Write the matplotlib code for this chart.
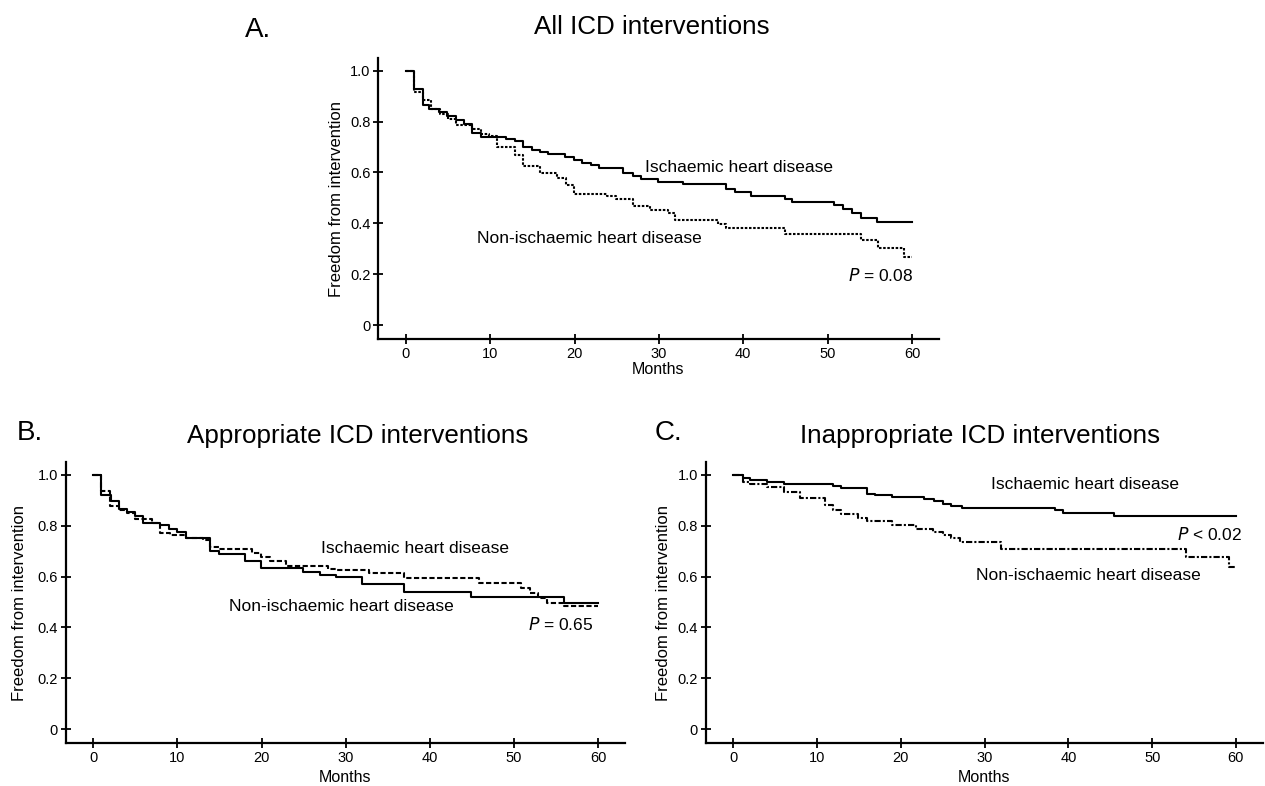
import matplotlib
matplotlib.use("Agg")
from matplotlib import pyplot as plt

plt.rcParams["font.family"] = ["Liberation Sans", "DejaVu Sans"]

# Panel A: all ICD interventions
a_isch_t = [0, 1.0, 2.0, 2.8, 3.9, 4.9, 5.9, 6.9, 7.9, 8.9, 11.9, 12.9, 13.9, 14.9, 15.9, 16.9,
            18.9, 19.9, 20.9, 21.9, 22.9, 25.8, 26.9, 27.9, 29.9, 32.8, 37.9, 39.0, 40.9, 44.9,
            45.8, 50.8, 51.8, 52.9, 53.9, 55.9, 60]
a_isch_s = [1.0, 0.927, 0.864, 0.848, 0.838, 0.822, 0.806, 0.79, 0.756, 0.738, 0.73, 0.722, 0.70,
            0.69, 0.68, 0.672, 0.662, 0.65, 0.637, 0.63, 0.617, 0.596, 0.586, 0.575, 0.564, 0.554,
            0.533, 0.522, 0.509, 0.496, 0.485, 0.472, 0.456, 0.441, 0.422, 0.406, 0.406]
a_non_t = [0, 1.0, 2.0, 3.0, 4.0, 5.0, 6.0, 7.9, 8.9, 9.9, 10.8, 12.9, 13.9, 15.9, 17.9, 19.0, 19.9,
           23.9, 24.9, 26.9, 28.9, 31.1, 31.9, 37.0, 37.9, 44.9, 54.0, 56.0, 59.0, 60]
a_non_s = [1.0, 0.917, 0.885, 0.85, 0.83, 0.81, 0.788, 0.769, 0.75, 0.744, 0.70, 0.669, 0.627, 0.596,
           0.577, 0.551, 0.517, 0.509, 0.496, 0.469, 0.454, 0.441, 0.414, 0.396, 0.38, 0.357, 0.335,
           0.304, 0.267, 0.267]

# Panel B: appropriate ICD interventions
b_solid_t = [0, 0.95, 2.05, 3.0, 3.96, 4.99, 5.9, 7.9, 8.95, 10.0, 11.0, 13.9, 14.96, 18.05, 19.95,
             24.9, 26.9, 28.9, 32.0, 36.9, 44.9, 55.9, 60]
b_solid_s = [1.0, 0.921, 0.896, 0.865, 0.853, 0.838, 0.812, 0.802, 0.786, 0.775, 0.75, 0.70, 0.687,
             0.661, 0.632, 0.618, 0.608, 0.6, 0.569, 0.539, 0.521, 0.495, 0.495]
b_dash_t = [0, 0.95, 2.0, 3.0, 4.0, 5.0, 7.0, 7.9, 9.1, 11.0, 13.0, 13.9, 14.9, 18.9, 19.95, 21.0,
            22.9, 27.9, 28.9, 32.8, 36.9, 45.9, 50.9, 51.9, 52.9, 53.9, 55.9, 60]
b_dash_s = [1.0, 0.937, 0.878, 0.86, 0.85, 0.826, 0.81, 0.77, 0.763, 0.75, 0.742, 0.715, 0.708, 0.691,
            0.675, 0.661, 0.641, 0.631, 0.625, 0.613, 0.595, 0.574, 0.555, 0.537, 0.516, 0.498,
            0.484, 0.484]

# Panel C: inappropriate ICD interventions
c_isch_t = [0, 1.1, 2.0, 4.0, 6.0, 11.9, 12.9, 15.9, 16.9, 18.9, 22.8, 23.9, 25.0, 26.0, 27.3, 38.4,
            39.4, 45.4, 60]
c_isch_s = [1.0, 0.989, 0.981, 0.97, 0.965, 0.957, 0.949, 0.926, 0.92, 0.912, 0.904, 0.896, 0.886,
            0.876, 0.868, 0.86, 0.849, 0.836, 0.836]
c_non_t = [0, 1.1, 2.0, 4.0, 6.0, 7.9, 10.9, 11.9, 12.9, 14.9, 15.9, 18.9, 21.8, 23.8, 25.0, 26.0,
           27.0, 31.9, 54.0, 59.2, 60]
c_non_s = [1.0, 0.973, 0.963, 0.952, 0.934, 0.907, 0.881, 0.863, 0.844, 0.83, 0.818, 0.804, 0.788,
           0.775, 0.765, 0.752, 0.736, 0.709, 0.678, 0.638, 0.638]

x_ticks = [0, 10, 20, 30, 40, 50, 60]
y_ticks = [0, 0.2, 0.4, 0.6, 0.8, 1.0]
y_tick_labels = ["0", "0.2", "0.4", "0.6", "0.8", "1.0"]


def style_axes(ax, ylab_x, xlab_y):
    ax.set_xlim(-3.3, 63.2)
    ax.set_ylim(-0.055, 1.05)
    ax.spines["top"].set_visible(False)
    ax.spines["right"].set_visible(False)
    for s in ("left", "bottom"):
        ax.spines[s].set_linewidth(1.6)
    ax.set_xticks(x_ticks)
    ax.set_yticks(y_ticks)
    ax.set_yticklabels(y_tick_labels)
    ax.tick_params(direction="inout", length=7, width=1.3, labelsize=10.5, pad=2)
    ax.set_xlabel("Months", fontsize=11.5)
    ax.set_ylabel("Freedom from intervention", fontsize=12)
    ax.xaxis.set_label_coords(0.5, xlab_y)
    ax.yaxis.set_label_coords(ylab_x, 0.5)


fig = plt.figure(figsize=(12.65, 7.86), dpi=100)

ax_a = fig.add_axes([0.2988, 0.5687, 0.4435, 0.3575])
ax_b = fig.add_axes([0.0518, 0.0543, 0.4422, 0.3579])
ax_c = fig.add_axes([0.5579, 0.0543, 0.4403, 0.3579])

lw = 1.5
ax_a.step(a_isch_t, a_isch_s, where="post", color="black", lw=lw)
ax_a.step(a_non_t, a_non_s, where="post", color="black", lw=lw, linestyle=(0, (1.2, 0.8)))
ax_b.step(b_solid_t, b_solid_s, where="post", color="black", lw=lw)
ax_b.step(b_dash_t, b_dash_s, where="post", color="black", lw=lw, linestyle=(0, (2.5, 1.2)))
ax_c.step(c_isch_t, c_isch_s, where="post", color="black", lw=lw)
ax_c.step(c_non_t, c_non_s, where="post", color="black", lw=lw, linestyle=(0, (3, 1, 1, 1)))

style_axes(ax_a, -0.061, -0.082)
style_axes(ax_b, -0.069, -0.096)
style_axes(ax_c, -0.062, -0.096)

ann = 12.5
ax_a.text(28.3, 0.618, "Ischaemic heart disease", fontsize=ann, va="center")
ax_a.text(8.4, 0.341, "Non-ischaemic heart disease", fontsize=ann, va="center")
ax_a.text(60.1, 0.196, r"$\it{P}$ = 0.08", fontsize=ann, va="center", ha="right")

ax_b.text(27.1, 0.711, "Ischaemic heart disease", fontsize=ann, va="center")
ax_b.text(16.1, 0.483, "Non-ischaemic heart disease", fontsize=ann, va="center")
ax_b.text(59.4, 0.412, r"$\it{P}$ = 0.65", fontsize=ann, va="center", ha="right")

ax_c.text(30.8, 0.962, "Ischaemic heart disease", fontsize=ann, va="center")
ax_c.text(60.8, 0.767, r"$\it{P}$ < 0.02", fontsize=ann, va="center", ha="right")
ax_c.text(29.0, 0.605, "Non-ischaemic heart disease", fontsize=ann, va="center")

title_fs = 18.7
fig.text(652 / 1265, 1 - 27 / 786, "All ICD interventions", fontsize=title_fs, ha="center", va="center")
fig.text(258 / 1265, 1 - 30 / 786, "A.", fontsize=20, ha="center", va="center")
fig.text(358 / 1265, 1 - 436 / 786, "Appropriate ICD interventions", fontsize=title_fs, ha="center", va="center")
fig.text(30 / 1265, 1 - 433 / 786, "B.", fontsize=20, ha="center", va="center")
fig.text(980 / 1265, 1 - 436 / 786, "Inappropriate ICD interventions", fontsize=title_fs, ha="center", va="center")
fig.text(668 / 1265, 1 - 433 / 786, "C.", fontsize=20, ha="center", va="center")

fig.savefig("out.png", dpi=100)
